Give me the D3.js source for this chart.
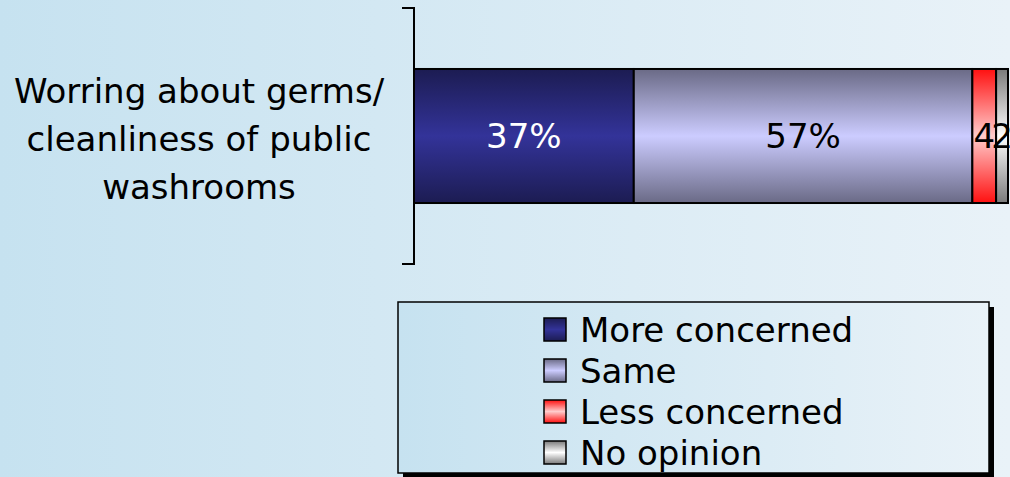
<!DOCTYPE html>
<html><head><meta charset="utf-8">
<script src="https://cdn.jsdelivr.net/npm/d3@7"></script>
<style>html,body{margin:0;padding:0;overflow:hidden;}svg{display:block;}</style>
</head><body>
<svg id="c" width="1010" height="477"></svg>
<script>
const categories = ["Worring about germs/ cleanliness of public washrooms"];
const categoryLines = ["Worring about germs/", "cleanliness of public", "washrooms"];
const seriesNames = ["More concerned", "Same", "Less concerned", "No opinion"];
const seriesValues = [37, 57, 4, 2];
const valueLabels = ["37%", "57%", "4", "2"];

const W = 1010, H = 477;
const svg = d3.select("#c");
const defs = svg.append("defs");
const FONT = "DejaVu Sans";
const FS = 34;

// background
const bg = defs.append("linearGradient").attr("id","bg").attr("x1","0").attr("x2","1").attr("y1","0").attr("y2","0");
bg.append("stop").attr("offset","0").attr("stop-color","#c6e2f0");
bg.append("stop").attr("offset","1").attr("stop-color","#e9f2f8");
svg.append("rect").attr("width",W).attr("height",H).attr("fill","url(#bg)");

const grads = [["#1c1c52","#333399"],["#6a6a86","#ccccff"],["#ff1010","#ffcccc"],["#7a7a7a","#ffffff"]];
grads.forEach((g,i)=>{
  const lg = defs.append("linearGradient").attr("id","g"+i).attr("x1","0").attr("x2","0").attr("y1","0").attr("y2","1");
  lg.append("stop").attr("offset","0").attr("stop-color",g[0]);
  lg.append("stop").attr("offset","0.5").attr("stop-color",g[1]);
  lg.append("stop").attr("offset","1").attr("stop-color",g[0]);
});

const x = d3.scaleLinear().domain([0,100]).range([414,1008]);
const y = d3.scaleBand().domain(categories).range([8,264]).paddingInner(0).paddingOuter(0.455);

let acc = 0;
const segs = seriesValues.map((v,i)=>{const s={i,x0:acc,x1:acc+v,v}; acc+=v; return s;});
const by = y(categories[0]), bh = y.bandwidth(), cy = by + bh/2;

svg.append("g").selectAll("rect").data(segs).join("rect")
  .attr("x",d=>x(d.x0)).attr("y",by)
  .attr("width",d=>x(d.x1)-x(d.x0)).attr("height",bh)
  .attr("fill",d=>"url(#g"+d.i+")").attr("stroke","#000").attr("stroke-width",2);

svg.append("g").selectAll("text").data(segs).join("text")
  .attr("x",d=>(x(d.x0)+x(d.x1))/2).attr("y",cy+12)
  .attr("text-anchor","middle")
  .attr("font-family",FONT).attr("font-size",FS)
  .attr("fill",d=>d.i===0?"#fff":"#000")
  .text((d,i)=>valueLabels[i]);

// axis bracket
const axis = d3.axisLeft(y).tickSize(0).tickFormat("");
const ag = svg.append("g").attr("transform","translate(414,0)").call(axis);
ag.select(".domain").remove();
ag.append("path").attr("d",`M-12,${y.range()[0]}H0V${y.range()[1]}H-12`).attr("fill","none").attr("stroke","#000").attr("stroke-width",2);

// category label
const lab = svg.append("text").attr("font-family",FONT).attr("font-size",FS).attr("text-anchor","middle").attr("fill","#000");
categoryLines.forEach((l,i)=>{
  lab.append("tspan").attr("x",199).attr("y",cy + (i-1)*48 + 15).text(l);
});

// legend
const lx=398, ly=302, lw=591, lh=171;
svg.append("rect").attr("x",lx+5).attr("y",ly+5).attr("width",lw).attr("height",lh).attr("fill","#000");
svg.append("rect").attr("x",lx).attr("y",ly).attr("width",lw).attr("height",lh).attr("fill","url(#bg)").attr("stroke","#000").attr("stroke-width",1.5);
const lg = svg.append("g").selectAll("g").data(seriesNames).join("g")
  .attr("transform",(d,i)=>`translate(544,${342+i*41})`);
lg.append("rect").attr("x",0).attr("y",-24).attr("width",22).attr("height",23)
  .attr("fill",(d,i)=>"url(#g"+i+")").attr("stroke","#000").attr("stroke-width",1.5);
lg.append("text").attr("x",36).attr("y",0)
  .attr("font-family",FONT).attr("font-size",FS).attr("fill","#000").text(d=>d);
</script>
</body></html>
